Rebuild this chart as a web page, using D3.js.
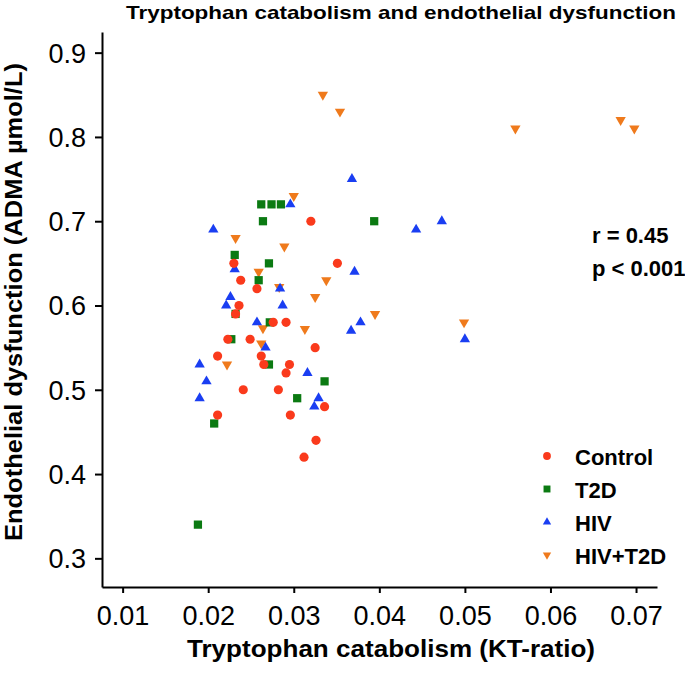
<!DOCTYPE html>
<html>
<head>
<meta charset="utf-8">
<script src="https://cdn.jsdelivr.net/npm/d3@7"></script>
<style>
  body { margin: 0; background: #fff; }
  svg text { font-family: "Liberation Sans", Arial, Helvetica, sans-serif; fill: #000; }
  .axis path, .axis line { stroke: #000; stroke-width: 2; }
  .axis text { font-size: 27px; }
</style>
</head>
<body>
<script>
// groups, in legend order
var groups  = ["Control", "T2D", "HIV", "HIV+T2D"];
var colors  = ["#fa3a1c", "#0b7a12", "#1a3ef2", "#ef7a1c"];

// KT-ratio / ADMA values
var control_x = [0.0320, 0.0230, 0.0351, 0.0238, 0.0257, 0.0236, 0.0232, 0.0276, 0.0291, 0.0223, 0.0249, 0.0325,
                 0.0211, 0.0262, 0.0265, 0.0295, 0.0291, 0.0241, 0.0282, 0.0336, 0.0211, 0.0296, 0.0326, 0.0312];
var control_y = [0.700, 0.650, 0.650, 0.630, 0.620, 0.600, 0.590, 0.580, 0.580, 0.560, 0.560, 0.550,
                 0.540, 0.540, 0.530, 0.530, 0.520, 0.500, 0.500, 0.480, 0.470, 0.470, 0.440, 0.420];

var t2d_x = [0.0262, 0.0274, 0.0285, 0.0264, 0.0394, 0.0231, 0.0271, 0.0259, 0.0232, 0.0272, 0.0227, 0.0271,
             0.0336, 0.0304, 0.0207, 0.0188];
var t2d_y = [0.720, 0.720, 0.720, 0.700, 0.700, 0.660, 0.650, 0.630, 0.590, 0.580, 0.560, 0.530,
             0.510, 0.490, 0.460, 0.340];

var hiv_x = [0.0368, 0.0296, 0.0206, 0.0443, 0.0473, 0.0231, 0.0371, 0.0284, 0.0226, 0.0221, 0.0287, 0.0257,
             0.0378, 0.0367, 0.0500, 0.0267, 0.0190, 0.0316, 0.0198, 0.0190, 0.0329, 0.0324];
var hiv_y = [0.750, 0.720, 0.690, 0.690, 0.700, 0.643, 0.640, 0.620, 0.610, 0.600, 0.600, 0.580,
             0.580, 0.570, 0.560, 0.550, 0.530, 0.520, 0.510, 0.490, 0.490, 0.480];

var hivt2d_x = [0.0334, 0.0354, 0.0559, 0.0682, 0.0698, 0.0300, 0.0232, 0.0289, 0.0259, 0.0338, 0.0283, 0.0325,
                0.0395, 0.0499, 0.0264, 0.0313, 0.0262, 0.0222];
var hivt2d_y = [0.850, 0.830, 0.810, 0.820, 0.810, 0.730, 0.680, 0.670, 0.640, 0.630, 0.622, 0.610,
                0.590, 0.580, 0.573, 0.572, 0.555, 0.530];

var x_ticks = [0.01, 0.02, 0.03, 0.04, 0.05, 0.06, 0.07];
var y_ticks = [0.3, 0.4, 0.5, 0.6, 0.7, 0.8, 0.9];
var stats   = ["r = 0.45", "p < 0.001"];

var W = 685, H = 678;
var margin = {left: 102, right: 28, top: 32, bottom: 91};
var width  = W - margin.left - margin.right;
var height = H - margin.top - margin.bottom;

var xscale = d3.scaleLinear().domain([0.00759, 0.07245]).range([0, width]);
var yscale = d3.scaleLinear().domain([0.266, 0.9245]).range([height, 0]);

var svg0 = d3.select("body").append("svg").attr("width", W).attr("height", H);
var svg = svg0.append("g").attr("transform", "translate(" + margin.left + "," + margin.top + ")");

// axes
var xaxis = svg.append("g").attr("class", "x axis")
    .attr("transform", "translate(0," + height + ")")
    .call(d3.axisBottom(xscale).tickValues(x_ticks).tickFormat(d3.format(".2f")).tickSize(6).tickSizeOuter(0));
xaxis.selectAll("text").attr("y", 38).attr("dy", 0);

var yaxis = svg.append("g").attr("class", "y axis")
    .call(d3.axisLeft(yscale).tickValues(y_ticks).tickFormat(d3.format(".1f")).tickSize(7).tickSizeOuter(0));
yaxis.selectAll("text").attr("x", -16).attr("dy", "0.35em");

// symbols per group
var sym = [d3.symbolCircle, d3.symbolSquare, d3.symbolTriangle, d3.symbolTriangle];
var rot = [0, 0, 0, 180];
var sizes = [66, 68, 46, 46];

var series = [
    {x: control_x, y: control_y},
    {x: t2d_x,     y: t2d_y},
    {x: hiv_x,     y: hiv_y},
    {x: hivt2d_x,  y: hivt2d_y}
];

// draw order so that red ends up on top, as in the picture
[3, 1, 2, 0].forEach(function(g) {
    var pts = series[g].x.map(function(v, i) { return [v, series[g].y[i]]; });
    svg.append("g").selectAll("path").data(pts).enter().append("path")
        .attr("d", d3.symbol().type(sym[g]).size(sizes[g]))
        .attr("transform", function(d) {
            return "translate(" + xscale(d[0]) + "," + yscale(d[1]) + ") rotate(" + rot[g] + ")";
        })
        .attr("fill", colors[g]);
});

// legend
var legend = svg0.append("g").attr("transform", "translate(547,456)");
groups.forEach(function(name, g) {
    var row = legend.append("g").attr("transform", "translate(0," + (g * 33) + ")");
    row.append("path")
        .attr("d", d3.symbol().type(sym[g]).size(g < 2 ? 48 : 30))
        .attr("transform", "rotate(" + rot[g] + ")")
        .attr("fill", colors[g]);
    row.append("text").attr("x", 28).attr("y", 9)
        .style("font-size", "22px").style("font-weight", "bold")
        .text(name);
});

// correlation text
stats.forEach(function(s, i) {
    svg0.append("text").attr("x", 592).attr("y", 243 + i * 33)
        .style("font-size", "22px").style("font-weight", "bold")
        .text(s);
});

// title and axis labels
svg0.append("text").attr("x", 126).attr("y", 19)
    .attr("textLength", 550).attr("lengthAdjust", "spacingAndGlyphs")
    .style("font-size", "19px").style("font-weight", "bold")
    .text("Tryptophan catabolism and endothelial dysfunction");

svg0.append("text").attr("x", 187).attr("y", 657)
    .attr("textLength", 408).attr("lengthAdjust", "spacingAndGlyphs")
    .style("font-size", "24px").style("font-weight", "bold")
    .text("Tryptophan catabolism (KT-ratio)");

svg0.append("text")
    .attr("transform", "translate(22,541) rotate(-90)")
    .attr("textLength", 478).attr("lengthAdjust", "spacingAndGlyphs")
    .style("font-size", "24px").style("font-weight", "bold")
    .text("Endothelial dysfunction (ADMA µmol/L)");
</script>
</body>
</html>
